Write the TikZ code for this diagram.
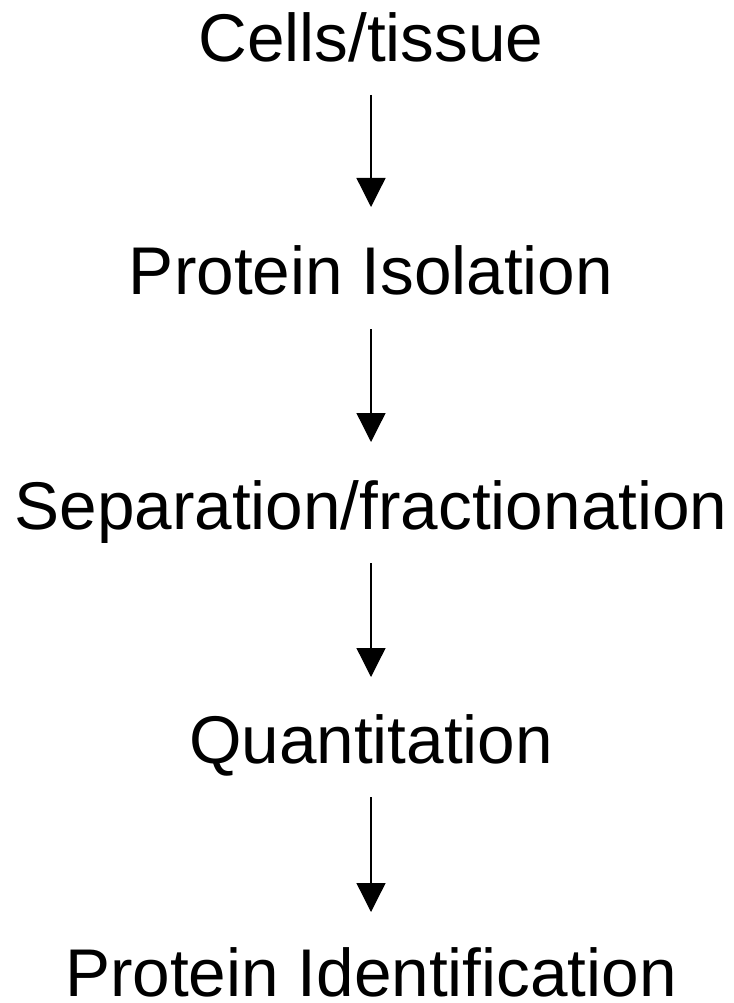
\documentclass[tikz,border=0pt]{standalone}
\usepackage{fontspec}
\setmainfont{Liberation Sans}
\usetikzlibrary{arrows.meta}

\begin{document}
\begin{tikzpicture}[
        x=1pt, y=-1pt,
        stage_node/.style={anchor=base, inner sep=0pt, text depth=0pt, font=\fontsize{67.5}{67.5}\selectfont},
        arrow/.style={-{Triangle[length=29pt, width=29pt]}, line width=1.3pt}
    ]
    \useasboundingbox (0,0) rectangle (733,1003);

    % Workflow stages
    \node[stage_node] (cells) at (371,62) {Cells/tissue};
    \node[stage_node] (isolation) at (371,294) {Protein Isolation};
    \node[stage_node] (separation) at (371,529) {Separation/fractionation};
    \node[stage_node] (quant) at (371,763) {Quantitation};
    \node[stage_node] (ident) at (371,996) {Protein Identification};

    % Connections
    \draw[arrow] ([yshift=-33pt]cells.base) -- ([yshift=87pt]isolation.base);
    \draw[arrow] ([yshift=-35pt]isolation.base) -- ([yshift=87pt]separation.base);
    \draw[arrow] ([yshift=-34pt]separation.base) -- ([yshift=86pt]quant.base);
    \draw[arrow] ([yshift=-34pt]quant.base) -- ([yshift=84pt]ident.base);

\end{tikzpicture}
\end{document}
